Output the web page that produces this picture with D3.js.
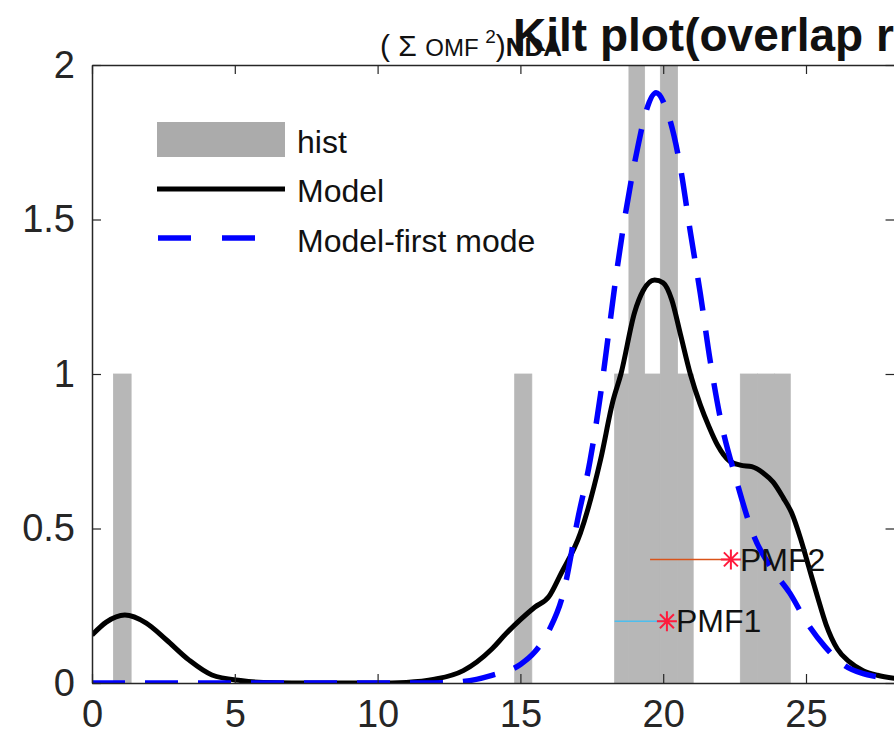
<!DOCTYPE html>
<html>
<head>
<meta charset="utf-8">
<script src="https://cdn.jsdelivr.net/npm/d3@7"></script>
<style>
  body { margin: 0; background: #fff; }
  svg { display: block; font-family: "Liberation Sans", Arial, sans-serif; }
</style>
</head>
<body>
<svg width="894" height="750"></svg>
<script>
// histogram bins (left edge, right edge, count)
const binLo = [0.75, 14.8, 18.3, 18.8, 19.35, 19.9, 20.5, 22.7, 23.3, 23.9];
const binHi = [1.37, 15.4, 18.8, 19.35, 19.9, 20.5, 21.05, 23.3, 23.9, 24.45];
const counts = [1, 1, 1, 2, 1, 2, 1, 1, 1, 1];

// Model curve
const modelX = [0, 0.5, 1.15, 1.9, 2.6, 3.4, 4.2, 5.2, 6, 8, 10, 11, 12, 13, 14, 14.5, 15, 15.5, 16, 16.4, 17.1, 17.8, 18.25, 18.52, 19.0, 19.3, 19.7, 20.0, 20.3, 20.6, 20.95, 21.3, 21.6, 21.9, 22.3, 22.7, 23.1, 23.5, 23.85, 24.2, 24.5, 24.8, 25.1, 25.4, 25.7, 26.1, 26.5, 27, 27.5, 28.1];
const modelY = [0.155, 0.197, 0.22, 0.194, 0.14, 0.074, 0.026, 0.008, 0.002, 0, 0, 0.002, 0.012, 0.04, 0.11, 0.16, 0.205, 0.245, 0.28, 0.35, 0.485, 0.72, 0.916, 1.0, 1.2, 1.27, 1.304, 1.295, 1.24, 1.13, 1.0, 0.9, 0.83, 0.77, 0.72, 0.705, 0.70, 0.68, 0.65, 0.6, 0.55, 0.47, 0.375, 0.28, 0.19, 0.11, 0.07, 0.04, 0.025, 0.015];

// Model-first mode curve
const modeX = [0, 4, 8, 12, 13, 14, 15, 15.5, 16, 16.5, 17.0, 17.44, 17.8, 18.1, 18.4, 18.7, 19.1, 19.4, 19.75, 20.1, 20.6, 20.95, 21.3, 21.65, 22.0, 22.55, 23.2, 23.8, 24.44, 25.0, 25.67, 26.3, 27.0, 27.5, 28.1];
const modeY = [0, 0, 0, 0, 0.005, 0.025, 0.06, 0.1, 0.17, 0.29, 0.527, 0.72, 0.93, 1.14, 1.35, 1.53, 1.73, 1.85, 1.91, 1.86, 1.67, 1.46, 1.26, 1.04, 0.857, 0.66, 0.47, 0.37, 0.29, 0.2, 0.117, 0.06, 0.03, 0.02, 0.01];

// PMF markers
const pmfLabels = ["PMF1", "PMF2"];
const pmfStart = [18.3, 19.54];
const pmfX = [20.13, 22.37];
const pmfY = [0.2, 0.4];
const pmfLineColors = ["#4DBEEE", "#D95319"];

const yTicks = [0, 0.5, 1, 1.5, 2];
const xTicks = [0, 5, 10, 15, 20, 25];

const mLeft = 92, mTop = 65, mBottom = 683;
const xMax = 28.1;

const svg = d3.select("svg");

const x = d3.scaleLinear().domain([0, xMax]).range([mLeft, mLeft + xMax * 28.56]);
const y = d3.scaleLinear().domain([0, 2]).range([mBottom, mTop]);

svg.append("clipPath").attr("id", "plot")
    .append("rect")
    .attr("x", x(0)).attr("y", y(2))
    .attr("width", x(xMax) - x(0)).attr("height", y(0) - y(2));

const plot = svg.append("g").attr("clip-path", "url(#plot)");

// bars
plot.selectAll(".bar")
    .data(counts)
    .enter()
    .append("rect")
    .attr("class", "bar")
    .attr("x", (d, i) => x(binLo[i]))
    .attr("width", (d, i) => x(binHi[i]) - x(binLo[i]))
    .attr("y", d => y(d))
    .attr("height", d => y(0) - y(d))
    .attr("fill", "#b7b7b7")
    .attr("stroke", "#b7b7b7")
    .attr("stroke-width", 0.8);

const line = d3.line()
    .x(d => x(d[0]))
    .y(d => y(d[1]))
    .curve(d3.curveMonotoneX);

plot.append("path")
    .datum(modelX.map((v, i) => [v, modelY[i]]))
    .attr("d", line)
    .attr("fill", "none")
    .attr("stroke", "#000")
    .attr("stroke-width", 5);

plot.append("path")
    .datum(modeX.map((v, i) => [v, modeY[i]]))
    .attr("d", line)
    .attr("fill", "none")
    .attr("stroke", "#0000ff")
    .attr("stroke-width", 5.5)
    .attr("stroke-dasharray", "33,20");

// PMF lines and markers
const pmf = plot.selectAll(".pmf")
    .data(pmfLabels)
    .enter()
    .append("g")
    .attr("class", "pmf");

pmf.append("line")
    .attr("x1", (d, i) => x(pmfStart[i]))
    .attr("x2", (d, i) => x(pmfX[i]))
    .attr("y1", (d, i) => y(pmfY[i]))
    .attr("y2", (d, i) => y(pmfY[i]))
    .attr("stroke", (d, i) => pmfLineColors[i])
    .attr("stroke-width", 1.5);

const star = "M-10,0L10,0M0,-10L0,10M-7,-7L7,7M-7,7L7,-7";
pmf.append("path")
    .attr("d", star)
    .attr("transform", (d, i) => `translate(${x(pmfX[i])},${y(pmfY[i])})`)
    .attr("stroke", "#ff1a3c")
    .attr("stroke-width", 2);

pmf.append("text")
    .attr("x", (d, i) => x(pmfX[i]) + 9)
    .attr("y", (d, i) => y(pmfY[i]))
    .attr("dy", "0.35em")
    .attr("font-size", 32)
    .attr("fill", "#111")
    .text(d => d);

// axes
const axisColor = "#262626";
const styleAxis = g => {
    g.select(".domain").attr("stroke", axisColor).attr("stroke-width", 1.5);
    g.selectAll(".tick line").attr("stroke", axisColor).attr("stroke-width", 1.2);
    g.selectAll("text").attr("fill", "#262626").attr("font-size", 38)
        .attr("font-family", "Liberation Sans, Arial, sans-serif");
};

svg.append("g")
    .attr("transform", `translate(0,${mBottom})`)
    .call(d3.axisBottom(x).tickValues(xTicks).tickSizeInner(-9).tickSizeOuter(0).tickPadding(17))
    .call(styleAxis);

svg.append("g")
    .attr("transform", `translate(0,${mTop})`)
    .call(d3.axisTop(x).tickValues(xTicks).tickSizeInner(-9).tickSizeOuter(0).tickFormat(""))
    .call(styleAxis);

svg.append("g")
    .attr("transform", `translate(${mLeft},0)`)
    .call(d3.axisLeft(y).tickValues(yTicks).tickSizeInner(-9).tickSizeOuter(0).tickPadding(17).tickFormat(d3.format("~g")))
    .call(styleAxis);

svg.append("g")
    .attr("transform", `translate(${x(xMax)},0)`)
    .call(d3.axisRight(y).tickValues(yTicks).tickSizeInner(-9).tickSizeOuter(0).tickFormat(""))
    .call(styleAxis);

// legend
const legend = svg.append("g").attr("transform", "translate(157,0)");
legend.append("rect")
    .attr("x", 0).attr("y", 122).attr("width", 128).attr("height", 35)
    .attr("fill", "#ababab");
legend.append("line")
    .attr("x1", 0).attr("x2", 128).attr("y1", 189).attr("y2", 189)
    .attr("stroke", "#000").attr("stroke-width", 5);
legend.append("line")
    .attr("x1", 1).attr("x2", 128).attr("y1", 238).attr("y2", 238)
    .attr("stroke", "#0000ff").attr("stroke-width", 5.5)
    .attr("stroke-dasharray", "33,31");
legend.selectAll(".ltext")
    .data(["hist", "Model", "Model-first mode"])
    .enter()
    .append("text")
    .attr("class", "ltext")
    .attr("x", 140)
    .attr("y", (d, i) => [153, 202, 252][i])
    .attr("font-size", 32)
    .attr("fill", "#111")
    .text(d => d);

// title (two overlapping strings, as in the source figure)
const sub = svg.append("text")
    .attr("x", 380).attr("y", 56)
    .attr("font-size", 30)
    .attr("fill", "#111");
sub.append("tspan").text("( Σ ");
sub.append("tspan").attr("font-size", 24).text("OMF ");
sub.append("tspan").attr("font-size", 19).attr("dy", -13).text("2");
sub.append("tspan").attr("dy", 13).text(")");
sub.append("tspan").attr("font-weight", "bold").attr("font-size", 26).text("NDA");

svg.append("text")
    .attr("x", 513).attr("y", 51)
    .attr("font-size", 46)
    .attr("font-weight", "bold")
    .attr("fill", "#111")
    .text("Kilt plot(overlap ratio)");
</script>
</body>
</html>
